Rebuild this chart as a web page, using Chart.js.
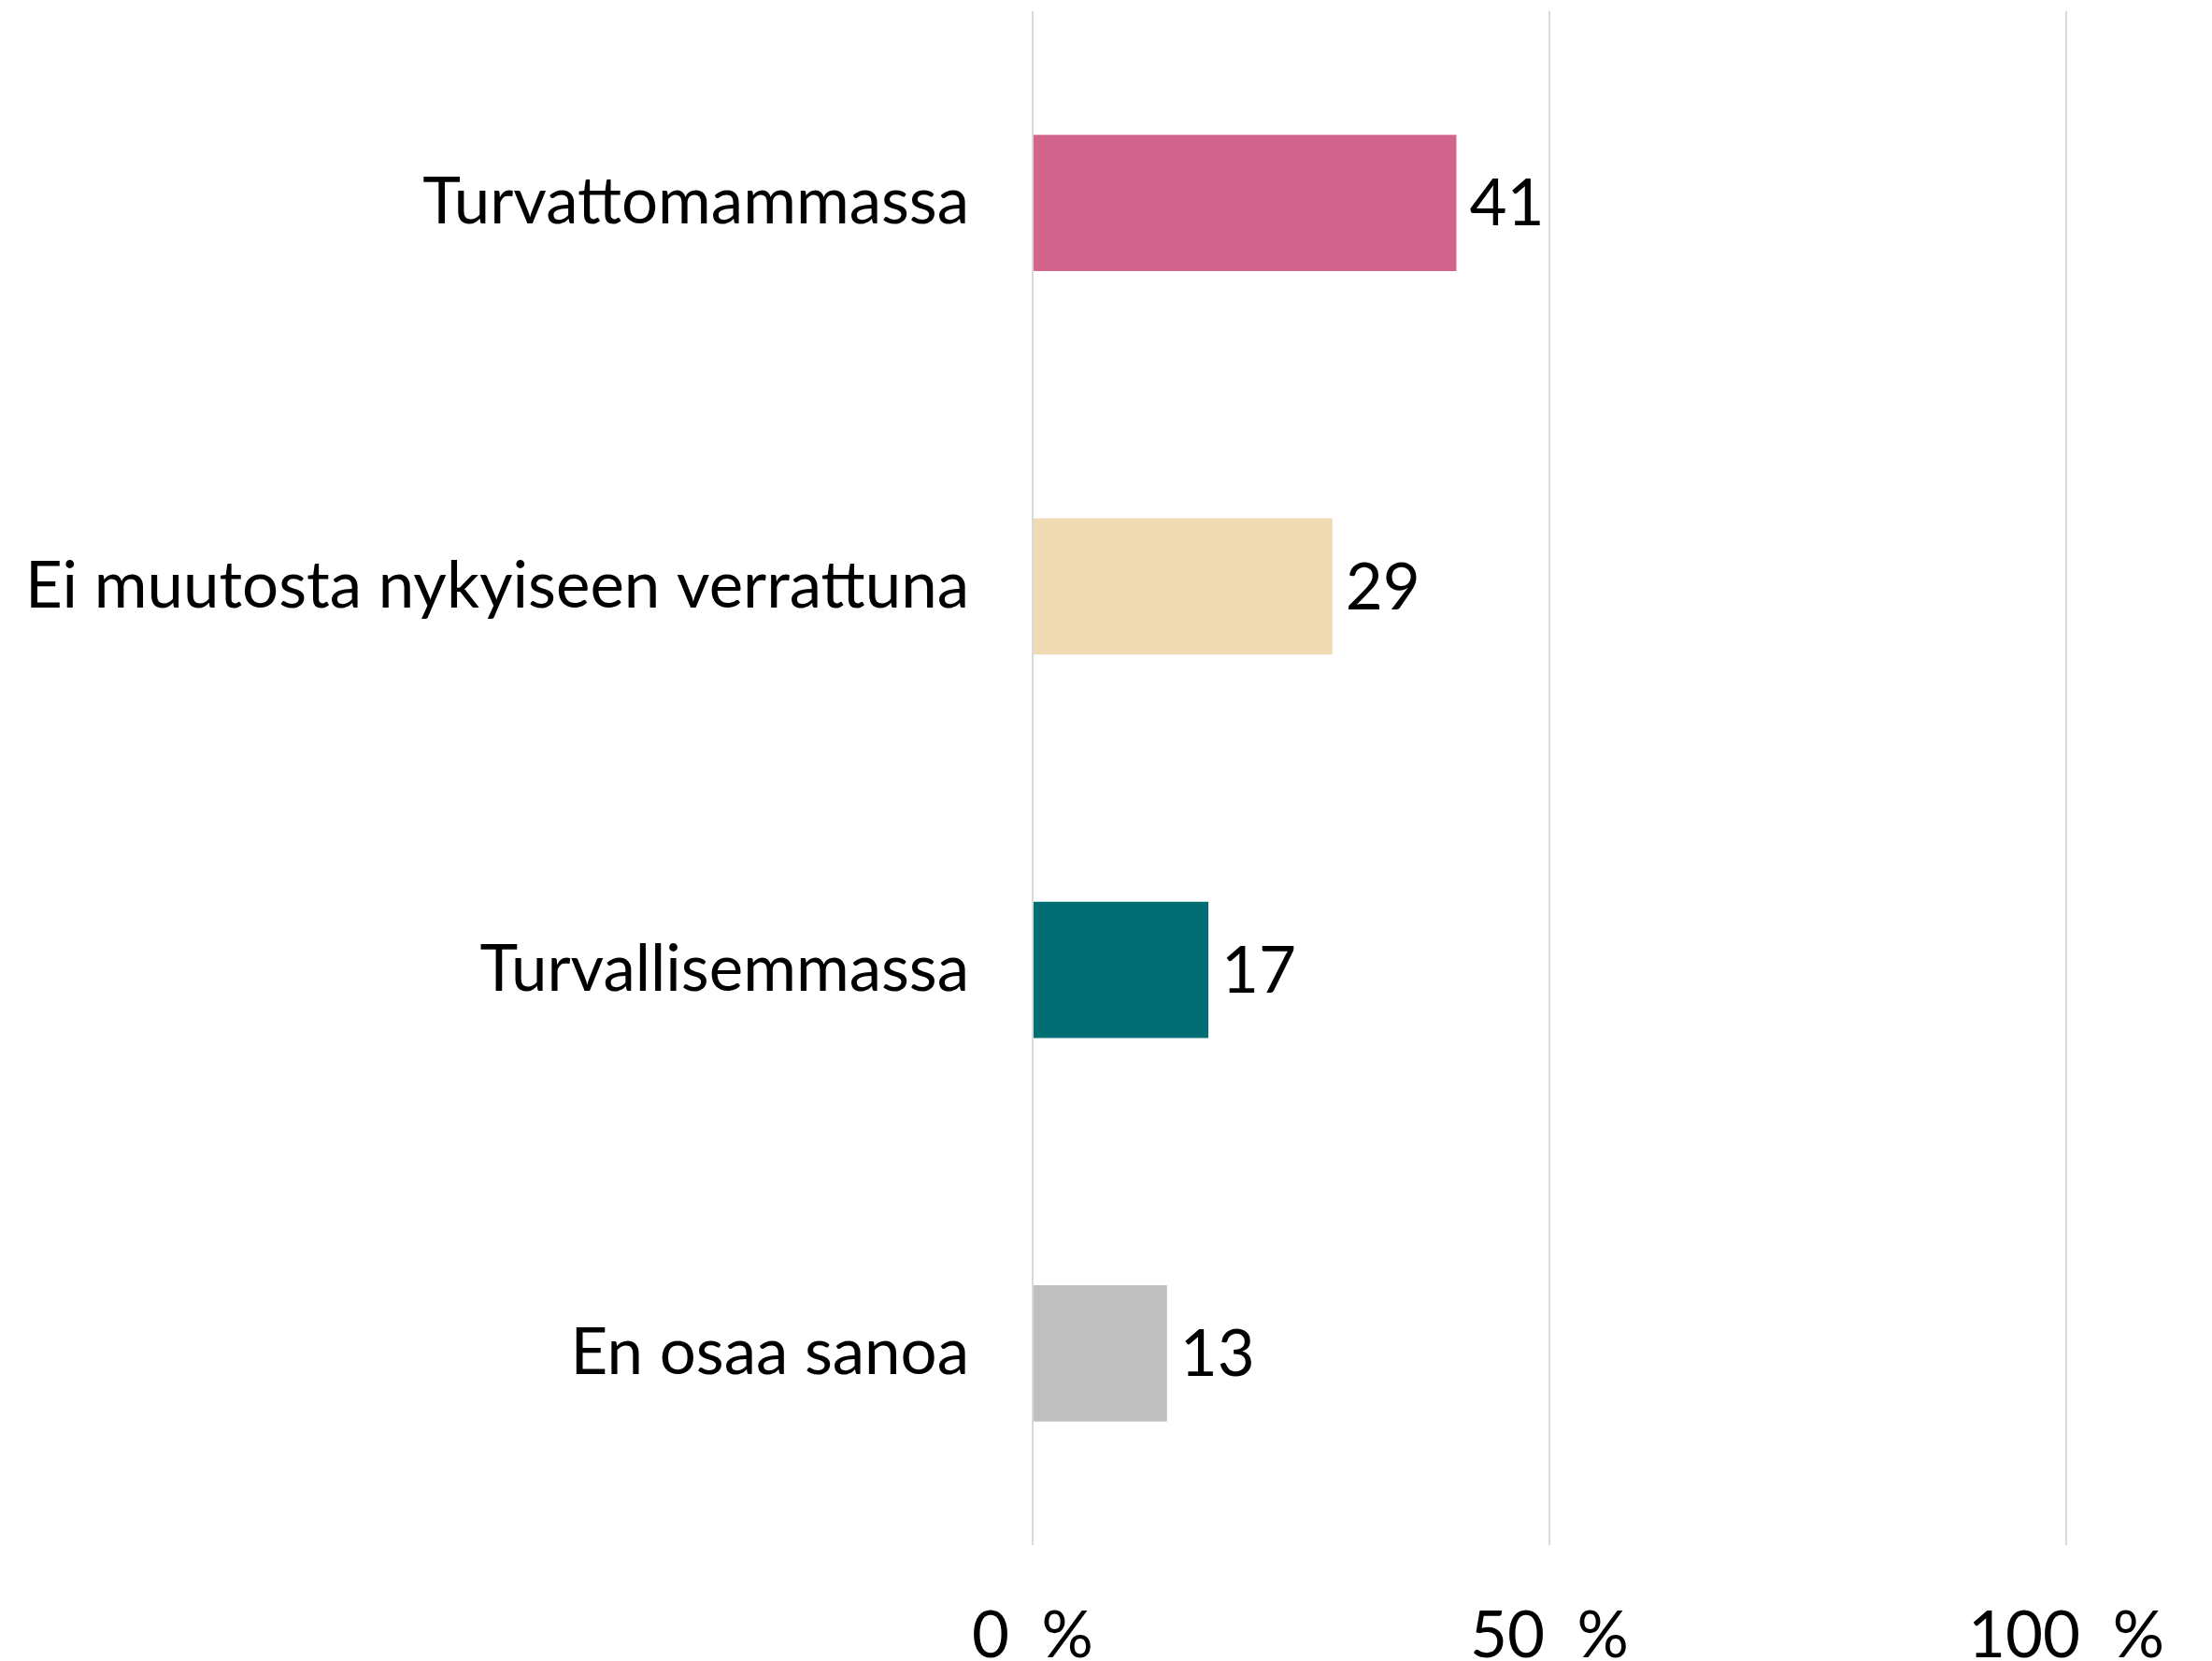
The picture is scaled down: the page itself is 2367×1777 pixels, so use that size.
<!DOCTYPE html>
<html>
<head>
<meta charset="utf-8">
<script src="https://cdn.jsdelivr.net/npm/chart.js@4"></script>
<style>
  html, body { margin: 0; padding: 0; background: #fff; }
  #wrap { width: 2367px; height: 1777px; }
</style>
</head>
<body>
<div id="wrap"><canvas id="chart" width="2367" height="1777"></canvas></div>
<script>
const categories = ['Turvattomammassa', 'Ei muutosta nykyiseen verrattuna', 'Turvallisemmassa', 'En osaa sanoa']
const values = [41, 29, 17, 13]
const barColors = ['#D3658C', '#F0DAB4', '#006E73', '#BFBFBF']
const tickValues = [0, 50, 100]

const fontFamily = 'Lato, "Open Sans", sans-serif'

// Arvot palkkien perään
const valueLabels = {
  id: 'valueLabels',
  afterDatasetsDraw(chart) {
    const ctx = chart.ctx
    const meta = chart.getDatasetMeta(0)
    ctx.save()
    ctx.font = '69px ' + fontFamily
    ctx.fillStyle = '#000'
    ctx.textAlign = 'left'
    ctx.textBaseline = 'middle'
    meta.data.forEach((bar, i) => {
      ctx.fillText(values[i], bar.x + 14, bar.y + 2)
    })
    ctx.restore()
  }
}

new Chart(document.getElementById('chart'), {
  type: 'bar',
  data: {
    labels: categories,
    datasets: [{
      data: values,
      backgroundColor: barColors,
      borderWidth: 0,
      categoryPercentage: 1,
      barPercentage: 0.355
    }]
  },
  options: {
    indexAxis: 'y',
    responsive: false,
    animation: false,
    layout: { padding: { top: 12, right: 156, left: 0, bottom: 0 } },
    plugins: {
      legend: { display: false },
      tooltip: { enabled: false }
    },
    scales: {
      x: {
        min: 0,
        max: 100,
        afterBuildTicks: axis => { axis.ticks = tickValues.map(v => ({ value: v })) },
        afterFit: axis => {
          axis.height = 124
          axis.paddingLeft = 0
          axis.paddingRight = 0
        },
        border: { display: false },
        grid: { color: '#d9d9d9', lineWidth: 2, drawTicks: false },
        ticks: {
          padding: 56,
          color: '#000',
          font: { family: fontFamily, size: 69 },
          callback: v => v + '\u2002%'
        }
      },
      y: {
        afterFit: axis => {
          axis.width = 1105
          axis.paddingTop = 0
          axis.paddingBottom = 0
        },
        border: { display: false },
        grid: { display: false, drawTicks: false },
        ticks: {
          padding: 68,
          color: '#000',
          font: { family: fontFamily, size: 69 }
        }
      }
    }
  },
  plugins: [valueLabels]
})
</script>
</body>
</html>
